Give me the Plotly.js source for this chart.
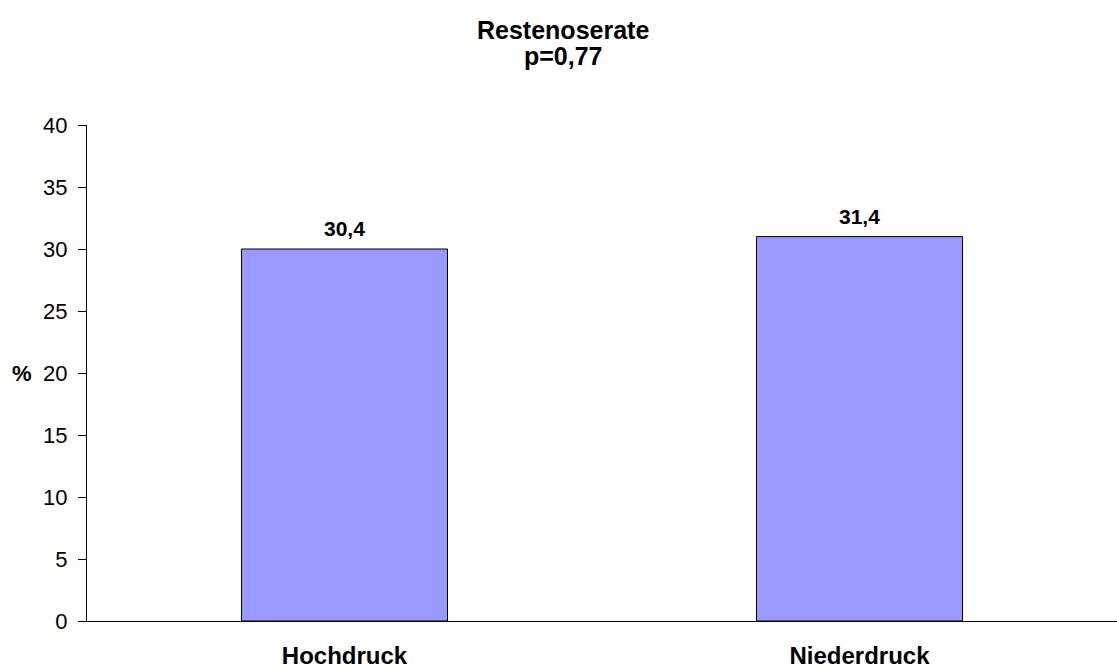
<!DOCTYPE html>
<html>
<head>
<meta charset="utf-8">
<script src="https://cdn.plot.ly/plotly-3.0.1.min.js"></script>
<style>html,body{margin:0;padding:0;background:#fff}#chart{width:1117px;height:670px}</style>
</head>
<body>
<div id="chart"></div>
<script>
// Data
const categories = ["Hochdruck", "Niederdruck"];
const barHeights = [30, 31];          // bar heights as drawn
const barLabels = ["30,4", "31,4"];   // printed values
const yTickValues = [0, 5, 10, 15, 20, 25, 30, 35, 40];
const titleLines = ["Restenoserate", "p=0,77"];
const yUnit = "%";

const font = "Liberation Sans, Arial, sans-serif";

// plot area geometry (pixels) used to place title lines
const W = 1117, H = 670, M = {l: 87, r: 0, t: 125, b: 49};
const plotH = H - M.t - M.b, plotW = W - M.l - M.r;
const titleCentersPx = [30, 56];
const titleCenterX = 563;

const trace = {
  type: "bar",
  x: categories.map((c, i) => i),
  y: barHeights,
  width: 0.4,
  marker: {color: "#9999FF", line: {color: "#000", width: 1}},
  hoverinfo: "none"
};

const barAnnotations = barLabels.map((t, i) => ({
  text: "<b>" + t + "</b>",
  xref: "x", yref: "y",
  x: i, y: barHeights[i],
  xanchor: "center", yanchor: "bottom",
  yshift: 7,
  showarrow: false,
  font: {family: font, size: 21, color: "#000"}
}));

const titleAnnotations = titleLines.map((t, i) => ({
  text: "<b>" + t + "</b>",
  xref: "paper", yref: "paper",
  x: (titleCenterX - M.l) / plotW,
  y: 1 + (M.t - titleCentersPx[i]) / plotH,
  xanchor: "center", yanchor: "middle",
  showarrow: false,
  font: {family: font, size: 25, color: "#000"}
}));

const layout = {
  width: W, height: H,
  margin: M,
  paper_bgcolor: "#fff", plot_bgcolor: "#fff",
  showlegend: false,
  font: {family: font, color: "#000"},
  xaxis: {
    range: [-0.5, 1.5],
    tickmode: "array",
    tickvals: categories.map((c, i) => i),
    ticktext: categories,
    ticks: "",
    ticklabelstandoff: 13,
    tickfont: {family: font, size: 24, color: "#000", weight: "bold"},
    showline: true, linecolor: "#000", linewidth: 1,
    showgrid: false, zeroline: false, fixedrange: true
  },
  yaxis: {
    range: [0, 40],
    tickmode: "array",
    tickvals: yTickValues,
    ticktext: yTickValues.map(String),
    ticks: "outside", ticklen: 8, tickcolor: "#000", tickwidth: 1,
    ticklabelstandoff: 6,
    tickfont: {family: font, size: 22, color: "#000"},
    showline: true, linecolor: "#000", linewidth: 1,
    showgrid: false, zeroline: false, fixedrange: true
  },
  annotations: barAnnotations.concat(titleAnnotations, [{
    text: "<b>" + yUnit + "</b>",
    xref: "paper", yref: "y",
    x: 0, y: 20,
    xanchor: "right", yanchor: "middle",
    xshift: -53,
    showarrow: false,
    font: {family: font, size: 22, color: "#000"}
  }]),
  bargap: 0
};

Plotly.newPlot("chart", [trace], layout, {staticPlot: true, displayModeBar: false});
</script>
</body>
</html>
